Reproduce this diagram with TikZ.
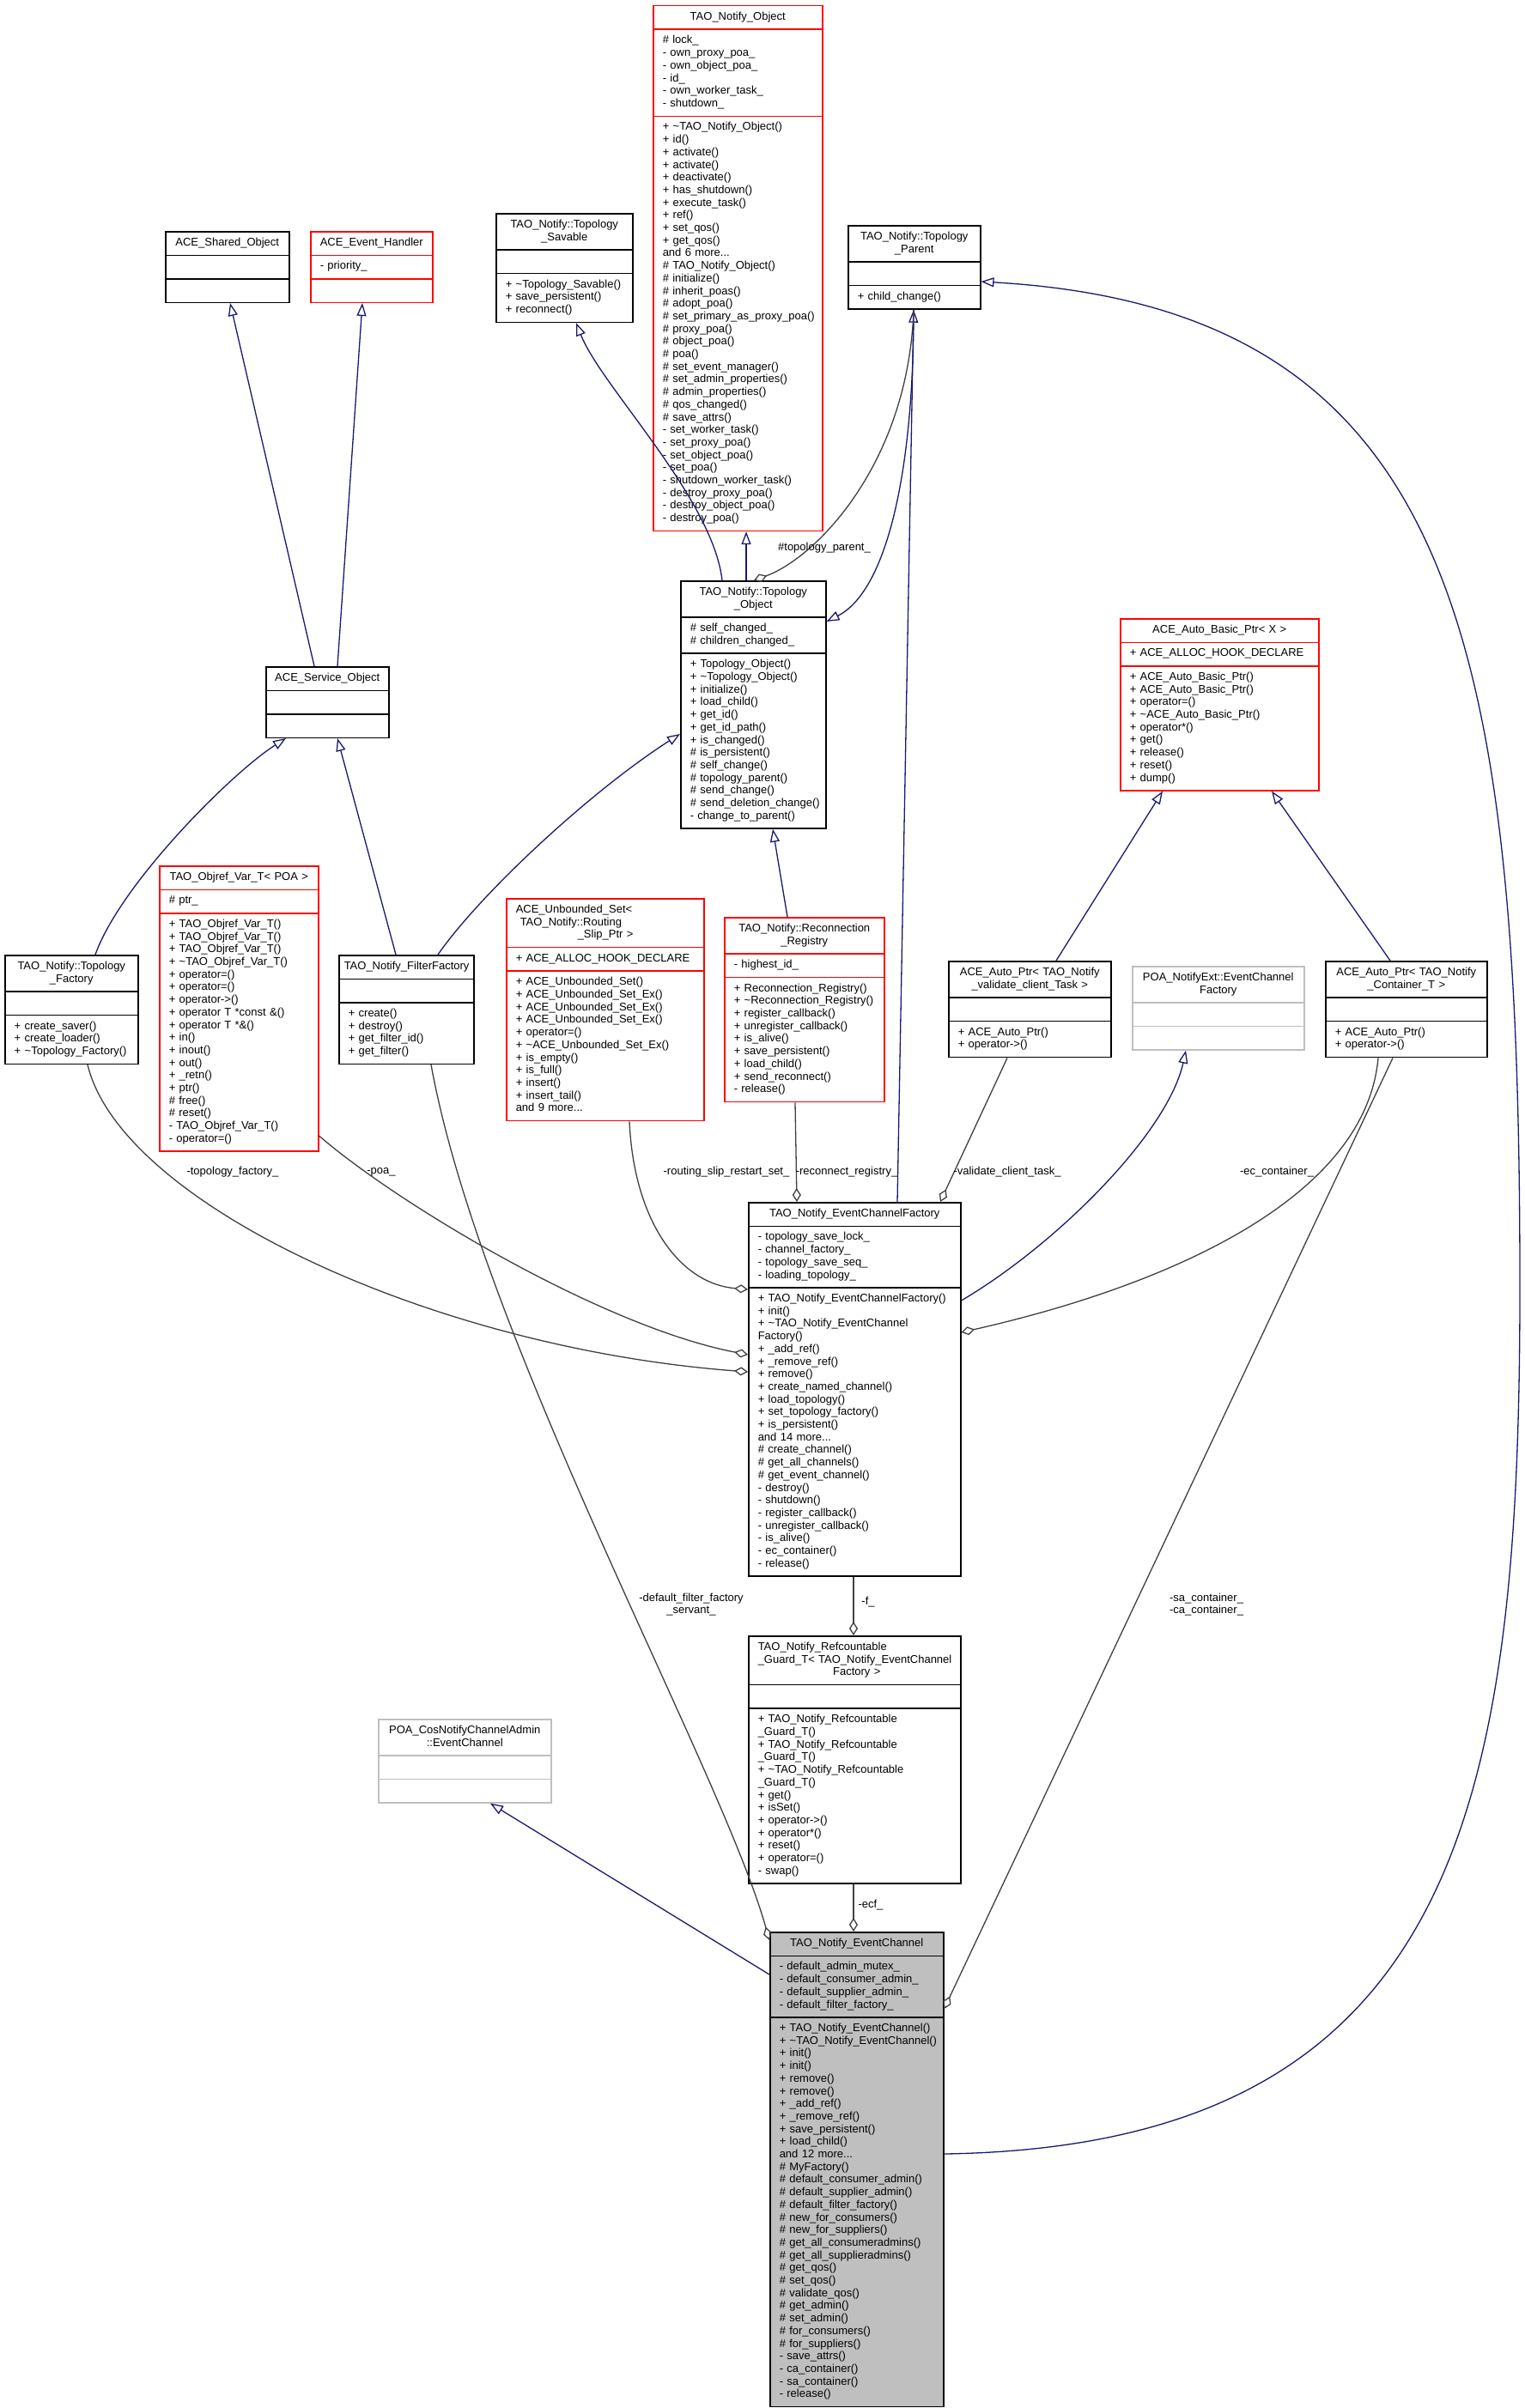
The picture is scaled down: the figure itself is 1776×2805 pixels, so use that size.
\documentclass[tikz,border=0pt]{standalone}
\usepackage{fontspec}
\setmainfont{Liberation Sans}
\usetikzlibrary{shapes.multipart, arrows.meta, calc}
\definecolor{inhblue}{RGB}{25,25,112}
\definecolor{usegray}{RGB}{64,64,64}
\definecolor{extgray}{RGB}{191,191,191}
\hyphenpenalty=10000
\exhyphenpenalty=10000
\newcommand{\umlparts}[3]{\centering\strut#1\strut\par\nodepart{two}\leftskip=5pt\strut#2\strut\par\nodepart{three}\leftskip=5pt\strut#3\strut\par}
\tikzset{
  umlclass/.style={rectangle split, rectangle split parts=3, draw=black, fill=white, text=black, line width=1.5pt, inner xsep=6pt, inner ysep=5.65pt, align=left, anchor=north west, font=\fontsize{13}{14.7}\selectfont},
  umlred/.style={umlclass, draw=red},
  umlext/.style={umlclass, draw=extgray},
  umlmain/.style={umlclass, fill=extgray},
  inherit/.style={draw=inhblue, line width=1.3pt, -{Triangle[open, length=15pt, width=11pt]}},
  uses/.style={draw=usegray, line width=1.3pt, -{Diamond[open, length=16pt, width=10pt]}},
  edgelbl/.style={font=\fontsize{13}{14.7}\selectfont, inner sep=0pt, align=center}
}
\begin{document}
\begin{tikzpicture}[x=1pt, y=-1pt]
\useasboundingbox (0,0) rectangle (1776,2805);

\node[umlred, text width=185pt] (obj) at (760,6) {\umlparts{TAO\_Notify\_Object}{\#~lock\_\\-~own\_proxy\_poa\_\\-~own\_object\_poa\_\\-~id\_\\-~own\_worker\_task\_\\-~shutdown\_}{+~\textasciitilde TAO\_Notify\_Object()\\+~id()\\+~activate()\\+~activate()\\+~deactivate()\\+~has\_shutdown()\\+~execute\_task()\\+~ref()\\+~set\_qos()\\+~get\_qos()\\and~6~more...\\\#~TAO\_Notify\_Object()\\\#~initialize()\\\#~inherit\_poas()\\\#~adopt\_poa()\\\#~set\_primary\_as\_proxy\_poa()\\\#~proxy\_poa()\\\#~object\_poa()\\\#~poa()\\\#~set\_event\_manager()\\\#~set\_admin\_properties()\\\#~admin\_properties()\\\#~qos\_changed()\\\#~save\_attrs()\\-~set\_worker\_task()\\-~set\_proxy\_poa()\\-~set\_object\_poa()\\-~set\_poa()\\-~shutdown\_worker\_task()\\-~destroy\_proxy\_poa()\\-~destroy\_object\_poa()\\-~destroy\_poa()}};
\node[umlclass, text width=132pt] (shared) at (192,269) {\umlparts{ACE\_Shared\_Object}{}{}};
\node[umlred, text width=130pt] (handler) at (361,269) {\umlparts{ACE\_Event\_Handler}{-~priority\_}{}};
\node[umlclass, text width=147pt] (savable) at (577,248) {\umlparts{TAO\_Notify::Topology\\\_Savable}{}{+~\textasciitilde Topology\_Savable()\\+~save\_persistent()\\+~reconnect()}};
\node[umlclass, text width=142pt] (parent) at (987,262) {\umlparts{TAO\_Notify::Topology\\\_Parent}{}{+~child\_change()}};
\node[umlclass, text width=157pt] (topo) at (792,676) {\umlparts{TAO\_Notify::Topology\\\_Object}{\#~self\_changed\_\\\#~children\_changed\_}{+~Topology\_Object()\\+~\textasciitilde Topology\_Object()\\+~initialize()\\+~load\_child()\\+~get\_id()\\+~get\_id\_path()\\+~is\_changed()\\\#~is\_persistent()\\\#~self\_change()\\\#~topology\_parent()\\\#~send\_change()\\\#~send\_deletion\_change()\\-~change\_to\_parent()}};
\node[umlclass, text width=131pt] (service) at (309,776) {\umlparts{ACE\_Service\_Object}{}{}};
\node[umlred, text width=219pt] (basic) at (1304,720) {\umlparts{ACE\_Auto\_Basic\_Ptr< X >}{+~ACE\_ALLOC\_HOOK\_DECLARE}{+~ACE\_Auto\_Basic\_Ptr()\\+~ACE\_Auto\_Basic\_Ptr()\\+~operator=()\\+~\textasciitilde ACE\_Auto\_Basic\_Ptr()\\+~operator*()\\+~get()\\+~release()\\+~reset()\\+~dump()}};
\node[umlclass, text width=143pt] (tfactory) at (5,1112) {\umlparts{TAO\_Notify::Topology\\\_Factory}{}{+~create\_saver()\\+~create\_loader()\\+~\textasciitilde Topology\_Factory()}};
\node[umlred, text width=173pt] (objref) at (185,1008) {\umlparts{TAO\_Objref\_Var\_T< POA >}{\#~ptr\_}{+~TAO\_Objref\_Var\_T()\\+~TAO\_Objref\_Var\_T()\\+~TAO\_Objref\_Var\_T()\\+~\textasciitilde TAO\_Objref\_Var\_T()\\+~operator=()\\+~operator=()\\+~operator->()\\+~operator~T~*const~\&()\\+~operator~T~*\&()\\+~in()\\+~inout()\\+~out()\\+~\_retn()\\+~ptr()\\\#~free()\\\#~reset()\\-~TAO\_Objref\_Var\_T()\\-~operator=()}};
\node[umlclass, text width=145pt] (filter) at (394,1112) {\umlparts{TAO\_Notify\_FilterFactory}{}{+~create()\\+~destroy()\\+~get\_filter\_id()\\+~get\_filter()}};
\node[umlred, text width=218pt] (uset) at (589,1046) {\umlparts{\raggedright\leftskip=5pt ACE\_Unbounded\_Set<\\\hspace*{5pt}TAO\_Notify::Routing\\\hspace*{72pt}\_Slip\_Ptr >}{+~ACE\_ALLOC\_HOOK\_DECLARE}{+~ACE\_Unbounded\_Set()\\+~ACE\_Unbounded\_Set\_Ex()\\+~ACE\_Unbounded\_Set\_Ex()\\+~ACE\_Unbounded\_Set\_Ex()\\+~operator=()\\+~\textasciitilde ACE\_Unbounded\_Set\_Ex()\\+~is\_empty()\\+~is\_full()\\+~insert()\\+~insert\_tail()\\and~9~more...}};
\node[umlred, text width=174pt] (registry) at (843,1068) {\umlparts{TAO\_Notify::Reconnection\\\_Registry}{-~highest\_id\_}{+~Reconnection\_Registry()\\+~\textasciitilde Reconnection\_Registry()\\+~register\_callback()\\+~unregister\_callback()\\+~is\_alive()\\+~save\_persistent()\\+~load\_child()\\+~send\_reconnect()\\-~release()}};
\node[umlclass, text width=177pt] (autoval) at (1104,1119) {\umlparts{ACE\_Auto\_Ptr< TAO\_Notify\\\_validate\_client\_Task >}{}{+~ACE\_Auto\_Ptr()\\+~operator->()}};
\node[umlext, text width=188pt] (poaecf) at (1318,1125) {\umlparts{POA\_NotifyExt::EventChannel\\Factory}{}{}};
\node[umlclass, text width=176pt] (autocont) at (1543,1119) {\umlparts{ACE\_Auto\_Ptr< TAO\_Notify\\\_Container\_T >}{}{+~ACE\_Auto\_Ptr()\\+~operator->()}};
\node[umlclass, text width=235pt] (ecf) at (871,1400) {\umlparts{TAO\_Notify\_EventChannelFactory}{-~topology\_save\_lock\_\\-~channel\_factory\_\\-~topology\_save\_seq\_\\-~loading\_topology\_}{+~TAO\_Notify\_EventChannelFactory()\\+~init()\\+~\textasciitilde TAO\_Notify\_EventChannel\\Factory()\\+~\_add\_ref()\\+~\_remove\_ref()\\+~remove()\\+~create\_named\_channel()\\+~load\_topology()\\+~set\_topology\_factory()\\+~is\_persistent()\\and~14~more...\\\#~create\_channel()\\\#~get\_all\_channels()\\\#~get\_event\_channel()\\-~destroy()\\-~shutdown()\\-~register\_callback()\\-~unregister\_callback()\\-~is\_alive()\\-~ec\_container()\\-~release()}};
\node[umlclass, text width=235pt] (guard) at (871,1905) {\umlparts{\raggedright\leftskip=5pt TAO\_Notify\_Refcountable\\\_Guard\_T< TAO\_Notify\_EventChannel\\\hspace*{\fill}Factory >\hspace*{\fill}}{}{+~TAO\_Notify\_Refcountable\\\_Guard\_T()\\+~TAO\_Notify\_Refcountable\\\_Guard\_T()\\+~\textasciitilde TAO\_Notify\_Refcountable\\\_Guard\_T()\\+~get()\\+~isSet()\\+~operator->()\\+~operator*()\\+~reset()\\+~operator=()\\-~swap()}};
\node[umlext, text width=189pt] (poacos) at (440,2002) {\umlparts{POA\_CosNotifyChannelAdmin\\::EventChannel}{}{}};
\node[umlmain, text width=190pt] (ec) at (896,2250) {\umlparts{TAO\_Notify\_EventChannel}{-~default\_admin\_mutex\_\\-~default\_consumer\_admin\_\\-~default\_supplier\_admin\_\\-~default\_filter\_factory\_}{+~TAO\_Notify\_EventChannel()\\+~\textasciitilde TAO\_Notify\_EventChannel()\\+~init()\\+~init()\\+~remove()\\+~remove()\\+~\_add\_ref()\\+~\_remove\_ref()\\+~save\_persistent()\\+~load\_child()\\and~12~more...\\\#~MyFactory()\\\#~default\_consumer\_admin()\\\#~default\_supplier\_admin()\\\#~default\_filter\_factory()\\\#~new\_for\_consumers()\\\#~new\_for\_suppliers()\\\#~get\_all\_consumeradmins()\\\#~get\_all\_supplieradmins()\\\#~get\_qos()\\\#~set\_qos()\\\#~validate\_qos()\\\#~get\_admin()\\\#~set\_admin()\\\#~for\_consumers()\\\#~for\_suppliers()\\-~save\_attrs()\\-~ca\_container()\\-~sa\_container()\\-~release()}};

\draw[inherit] ([xshift=57pt]service.north west) -- ([xshift=76pt]shared.south west);
\draw[inherit] ([xshift=84pt]service.north west) -- ([xshift=61pt]handler.south west);
\draw[inherit] ([xshift=106pt]tfactory.north west) .. controls (140,1030) and (270,900) .. ([xshift=24pt]service.south west);
\draw[inherit] ([xshift=67pt]filter.north west) -- ([xshift=84pt]service.south west);
\draw[inherit] ([xshift=116pt]filter.north west) .. controls (560,1040) and (690,920) .. ([yshift=-179pt]topo.north west);
\draw[inherit] ([xshift=77pt]topo.north west) -- ([xshift=109pt]obj.south west);
\draw[inherit] ([xshift=49pt]topo.north west) .. controls (830,580) and (700,450) .. ([xshift=94pt]savable.south west);
\draw[inherit] ([xshift=77pt]parent.south west) .. controls (1064,560) and (1030,690) .. ([yshift=-48pt]topo.north east);
\draw[inherit] ([xshift=74pt]registry.north west) -- ([xshift=108pt]topo.south west);
\draw[inherit] ([xshift=126pt]autoval.north west) -- ([xshift=50pt]basic.south west);
\draw[inherit] ([xshift=76pt]autocont.north west) -- ([xshift=177pt]basic.south west);
\draw[inherit] ([yshift=-115pt]ecf.north east) .. controls (1230,1450) and (1360,1320) .. ([xshift=63pt]poaecf.south west);
\draw[inherit] ([xshift=174pt]ecf.north west) -- ([xshift=77pt]parent.south west);
\draw[inherit] ([yshift=-50pt]ec.north west) -- ([xshift=131pt]poacos.south west);
\draw[inherit] ([yshift=-259pt]ec.north east) .. controls (1700,2500) and (1770,2100) .. (1770,1500) .. controls (1770,750) and (1700,360) .. ([yshift=-66pt]parent.north east);

\draw[uses] ([xshift=77pt]parent.south west) .. controls (1058,540) and (950,650) .. ([xshift=86pt]topo.north west);
\draw[uses] ([xshift=97pt]tfactory.south west) .. controls (140,1400) and (500,1570) .. ([yshift=-198pt]ecf.north west);
\draw[uses] ([yshift=-315pt]objref.north east) .. controls (460,1400) and (700,1545) .. ([yshift=-178pt]ecf.north west);
\draw[uses] ([xshift=144pt]uset.south west) .. controls (738,1420) and (790,1495) .. ([yshift=-102pt]ecf.north west);
\draw[uses] ([xshift=83pt]registry.south west) -- ([xshift=57pt]ecf.north west);
\draw[uses] ([xshift=69pt]autoval.south west) -- ([xshift=224pt]ecf.north west);
\draw[uses] ([xshift=62pt]autocont.south west) .. controls (1590,1400) and (1350,1500) .. ([yshift=-152pt]ecf.north east);
\draw[uses] ([xshift=123pt]ecf.south west) -- ([xshift=123pt]guard.north west);
\draw[uses] ([xshift=123pt]guard.south west) -- ([xshift=98pt]ec.north west);
\draw[uses] ([xshift=108pt]filter.south west) .. controls (560,1560) and (840,2060) .. ([yshift=-10pt]ec.north west);
\draw[uses] ([xshift=79pt]autocont.south west) -- ([yshift=-90pt]ec.north east);

\node[edgelbl] (lparent) at (960,638) {\#topology\_parent\_};
\node[edgelbl] (ltfactory) at (271,1365) {-topology\_factory\_};
\node[edgelbl] (lpoa) at (444,1365) {-poa\_};
\node[edgelbl] (lrouting) at (846,1365) {-routing\_slip\_restart\_set\_};
\node[edgelbl] (lreconnect) at (986,1365) {-reconnect\_registry\_};
\node[edgelbl] (lvalidate) at (1173,1365) {-validate\_client\_task\_};
\node[edgelbl] (lcontainer) at (1487,1365) {-ec\_container\_};
\node[edgelbl] (lfilter) at (805,1869) {-default\_filter\_factory\\\_servant\_};
\node[edgelbl] (lsaca) at (1405,1869) {-sa\_container\_\\-ca\_container\_};
\node[edgelbl] (lf) at (1011,1866) {-f\_};
\node[edgelbl] (lecf) at (1014,2219) {-ecf\_};
\end{tikzpicture}
\end{document}
